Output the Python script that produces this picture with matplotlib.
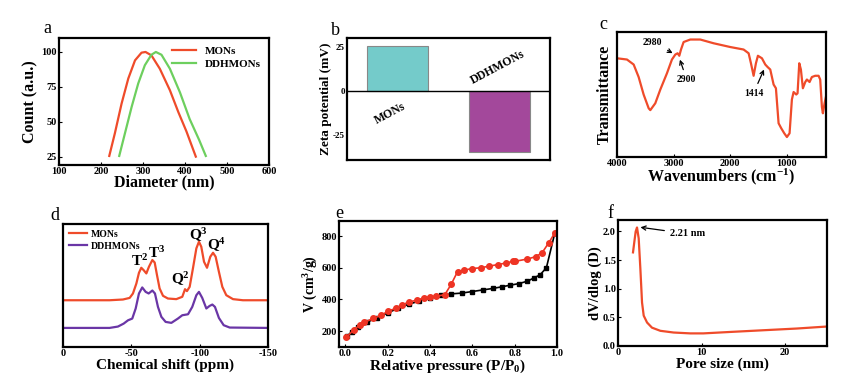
import numpy as np
import matplotlib
matplotlib.use("Agg")
import matplotlib.pyplot as plt

plt.rcParams.update({"font.family": "Liberation Serif", "font.weight": "bold",
                     "axes.labelweight": "bold", "axes.linewidth": 1.6,
                     "axes.unicode_minus": False,
                     "mathtext.fontset": "custom",
                     "mathtext.rm": "Liberation Serif:bold",
                     "mathtext.bf": "Liberation Serif:bold",
                     "mathtext.it": "Liberation Serif:bold:italic",
                     "xtick.direction": "in", "ytick.direction": "in",
                     "xtick.major.size": 2.5, "ytick.major.size": 2.5})

RED = "#EF4B2A"
GREEN = "#6DCF5E"
PURPLE = "#6A36A6"

# (a) DLS size distribution
a_mons_d = [219.7, 233, 249, 265, 281, 296.5, 306, 320, 340, 364, 384, 403.5, 425.7]
a_mons_c = [25.5, 41.7, 63, 81, 94, 99.5, 100, 97.6, 88, 72.6, 57, 43, 25]
a_ddh_d = [243.4, 257, 273, 288.6, 304.4, 320, 330.6, 344, 364, 388, 411, 433.6, 449.5]
a_ddh_c = [25.5, 41.7, 60.7, 77.4, 90.5, 98, 100, 98, 88, 71, 52, 37, 25.5]

# (b) zeta potential
b_names = ["MONs", "DDHMONs"]
b_zeta = [25.5, -34.7]

# (c) FTIR
c_wn = [4000, 3824, 3706, 3618, 3530, 3441, 3412, 3324, 3235, 3118, 3030, 2970, 2930, 2900,
        2870, 2824, 2706, 2530, 2294, 2000, 1765, 1676, 1635, 1588, 1547, 1512, 1441, 1382,
        1341, 1294, 1235, 1194, 1147, 1100, 1047, 1000, 953, 912, 882, 835, 812, 782, 753,
        718, 676, 647, 600, 559, 500, 441, 412, 382, 365, 335, 312]
c_tr = [79, 78, 74, 64, 50, 39, 37.5, 43, 54, 67, 78, 82, 83, 81,
        86, 92, 94, 94, 91, 88, 86, 83, 75, 65, 75, 81, 79, 74,
        72, 70, 58, 55, 27, 23, 19, 16, 19, 46, 52, 50, 51, 75, 70,
        55, 60, 62, 60, 64, 65, 65, 62, 40, 35, 43, 48]

# (d) 29Si NMR
d_mons_ppm = [0, -34.1, -43.9, -48.8, -51.2, -53.7, -55.6, -57.3, -59.0, -61.0, -62.9, -65.4,
              -67.1, -68.8, -70.7, -73.2, -76.8, -82.9, -87.3, -89.3, -90.7, -92.7, -95.1,
              -97.6, -99.5, -101.2, -103.2, -105.4, -107.8, -109.8, -111.7, -114.1, -116.6,
              -119.5, -124.4, -131.7, -150]
d_mons_i = [38.0, 38.0, 38.6, 39.9, 43.5, 51.6, 60.3, 64.4, 62.5, 59.8, 65.2, 70.7,
            68.7, 58.4, 47.6, 41.6, 39.4, 38.9, 40.8, 47.0, 45.4, 48.9, 63.9,
            80.2, 85.6, 81.5, 69.3, 64.4, 73.4, 76.6, 73.4, 61.1, 48.9,
            42.1, 38.9, 38.0, 38.0]
d_ddh_ppm = [0, -34.1, -40.2, -44.4, -47.6, -50.7, -53.2, -55.6, -58.0, -60.5, -62.7, -65.4,
             -67.3, -69.5, -72.0, -75.1, -79.3, -84.1, -87.3, -91.5, -94.6, -97.6, -99.5,
             -101.9, -104.9, -107.3, -109.3, -111.2, -114.1, -117.6, -122.0, -150]
d_ddh_i = [15.5, 15.5, 16.6, 19.0, 21.7, 23.1, 31.3, 43.5, 48.4, 44.8, 43.5, 45.9,
           43.5, 32.6, 24.5, 20.4, 19.6, 23.1, 25.8, 26.6, 32.6, 42.1, 44.8,
           39.9, 31.3, 33.4, 34.5, 32.6, 23.6, 17.7, 15.8, 15.5]

# (e) N2 isotherm
e_ads_p = [0.01, 0.03, 0.06, 0.10, 0.15, 0.20, 0.25, 0.30, 0.35, 0.40, 0.45, 0.50, 0.55,
           0.60, 0.65, 0.70, 0.74, 0.78, 0.82, 0.86, 0.89, 0.92, 0.95, 0.99]
e_ads_v = [170, 195, 225, 255, 285, 315, 345, 370, 390, 410, 425, 435, 440,
           450, 460, 470, 480, 490, 500, 515, 535, 555, 600, 820]
e_des_p = [0.005, 0.04, 0.07, 0.09, 0.13, 0.17, 0.20, 0.24, 0.27, 0.30, 0.34, 0.37, 0.40,
           0.43, 0.47, 0.50, 0.53, 0.56, 0.60, 0.64, 0.68, 0.72, 0.76, 0.79, 0.80, 0.86,
           0.90, 0.93, 0.96, 0.99]
e_des_v = [160, 210, 240, 255, 280, 300, 325, 345, 365, 385, 395, 410, 415,
           420, 430, 495, 575, 585, 595, 600, 610, 620, 630, 640, 640, 655,
           670, 695, 755, 820]

# (f) pore size distribution
f_size = [1.79, 1.95, 2.11, 2.27, 2.47, 2.67, 2.87, 3.07, 3.47, 4.06, 5.06, 6.65, 8.65,
          10.2, 13.4, 17.4, 21.4, 25]
f_dv = [1.635, 1.82, 2.0, 2.07, 1.88, 1.35, 0.76, 0.53, 0.41, 0.32, 0.265, 0.235, 0.22,
        0.22, 0.245, 0.275, 0.305, 0.34]

fig = plt.figure(figsize=(8.65, 3.84), dpi=100)
axa = fig.add_axes([0.0682, 0.5703, 0.2428, 0.3307])
axb = fig.add_axes([0.4012, 0.5833, 0.2347, 0.3177])
axc = fig.add_axes([0.7133, 0.5911, 0.2416, 0.3255])
axd = fig.add_axes([0.0728, 0.0964, 0.2370, 0.3203])
axe = fig.add_axes([0.3919, 0.0964, 0.2520, 0.3281])
axf = fig.add_axes([0.7145, 0.0990, 0.2416, 0.3280])

# a
axa.plot(a_mons_d, a_mons_c, color=RED, lw=1.6, label="MONs")
axa.plot(a_ddh_d, a_ddh_c, color=GREEN, lw=1.6, label="DDHMONs")
axa.set_xlim(100, 600); axa.set_ylim(19, 110)
axa.set_xticks([100, 200, 300, 400, 500, 600]); axa.set_yticks([25, 50, 75, 100])
axa.tick_params(labelsize=7.5, pad=1.5)
axa.set_xlabel("Diameter (nm)", fontsize=11.5, labelpad=-1)
axa.set_ylabel("Count (a.u.)", fontsize=11.5, labelpad=2)
axa.legend(loc="upper right", fontsize=8, frameon=False, handlelength=2.2,
           borderaxespad=0.3, labelspacing=0.3)

# b
axb.bar([0, 1], b_zeta, width=0.6, color=["#74CBCA", "#A3489B"], edgecolor="#888888", lw=0.8)
axb.axhline(0, color="black", lw=1.0)
axb.set_xlim(-0.5, 1.5); axb.set_ylim(-39, 30)
axb.set_xticks([]); axb.set_yticks([25, 0, -25])
axb.tick_params(labelsize=6.5, pad=1.5, length=0)
axb.set_ylabel("Zeta potential (mV)", fontsize=9.5, labelpad=1)
axb.text(-0.076, -12.5, b_names[0], rotation=28, ha="center", va="center", fontsize=8.5)
axb.text(0.988, 13.6, b_names[1], rotation=28, ha="center", va="center", fontsize=8.5)

# c
axc.plot(c_wn, c_tr, color=RED, lw=1.6)
axc.set_xlim(4000, 310); axc.set_ylim(0, 100)
axc.set_xticks([4000, 3000, 2000, 1000]); axc.set_yticks([])
axc.tick_params(labelsize=7.5, pad=1.5)
axc.set_xlabel("Wavenumbers (cm$^{-1}$)", fontsize=11.5, labelpad=-1)
axc.set_ylabel("Transmittance", fontsize=11.5, labelpad=3)
arr = dict(arrowstyle="->", color="black", lw=0.9)
axc.annotate("2980", xy=(2975, 82), xytext=(3370, 92), fontsize=7, ha="center", va="center",
             arrowprops=arr)
axc.annotate("2900", xy=(2905, 80), xytext=(2770, 62), fontsize=7, ha="center", va="center",
             arrowprops=arr)
axc.annotate("1414", xy=(1385, 72), xytext=(1590, 51), fontsize=7, ha="center", va="center",
             arrowprops=arr)

# d
axd.plot(d_mons_ppm, d_mons_i, color=RED, lw=1.6, label="MONs")
axd.plot(d_ddh_ppm, d_ddh_i, color=PURPLE, lw=1.6, label="DDHMONs")
axd.set_xlim(0, -150); axd.set_ylim(0, 100)
axd.set_xticks([0, -50, -100, -150]); axd.set_yticks([])
axd.tick_params(labelsize=7.5, pad=1.5)
axd.set_xlabel("Chemical shift (ppm)", fontsize=11, labelpad=0)
axd.legend(loc="upper left", fontsize=7, frameon=False, handlelength=1.9,
           handletextpad=0.4, borderaxespad=0.2, labelspacing=0.3)
for lab, xx, yy in [("T^2", -56.2, 70.1), ("T^3", -68.6, 76.1), ("Q^2", -85.9, 55.2),
                    ("Q^3", -99.5, 91), ("Q^4", -112.2, 82.9)]:
    axd.text(xx, yy, "$\\mathregular{%s}$" % lab, fontsize=11, ha="center", va="center")

# e
axe.plot(e_ads_p, e_ads_v, "-s", color="black", ms=3.5, lw=1.2)
axe.plot(e_des_p, e_des_v, "-o", color="#EE3424", ms=4, lw=1.2)
axe.set_xlim(-0.03, 1.0); axe.set_ylim(100, 895)
axe.set_xticks([0.0, 0.2, 0.4, 0.6, 0.8, 1.0]); axe.set_yticks([200, 400, 600, 800])
axe.tick_params(labelsize=7.5, pad=1.5)
axe.set_xlabel("Relative pressure (P/P$_{0}$)", fontsize=11, labelpad=0)
axe.set_ylabel("V (cm$^{3}$/g)", fontsize=10, labelpad=1)

# f
axf.plot(f_size, f_dv, color=RED, lw=1.6)
axf.set_xlim(0, 25); axf.set_ylim(0, 2.2)
axf.set_xticks([0, 10, 20]); axf.set_yticks([0.0, 0.5, 1.0, 1.5, 2.0])
axf.tick_params(labelsize=7.5, pad=1.5)
axf.set_xlabel("Pore size (nm)", fontsize=11, labelpad=0)
axf.set_ylabel("dV/dlog (D)", fontsize=10.5, labelpad=1)
axf.annotate("2.21 nm", xy=(2.35, 2.08), xytext=(6.2, 1.96), fontsize=7.5, va="center",
             arrowprops=arr)

for ax, letter, (lx, ly) in [(axa, "a", (0.055, 0.925)), (axb, "b", (0.388, 0.92)),
                             (axc, "c", (0.698, 0.935)), (axd, "d", (0.063, 0.44)),
                             (axe, "e", (0.392, 0.445)), (axf, "f", (0.706, 0.445))]:
    fig.text(lx, ly, letter, fontsize=13, fontweight="normal", ha="center", va="center")

fig.savefig("out.png", dpi=100)
